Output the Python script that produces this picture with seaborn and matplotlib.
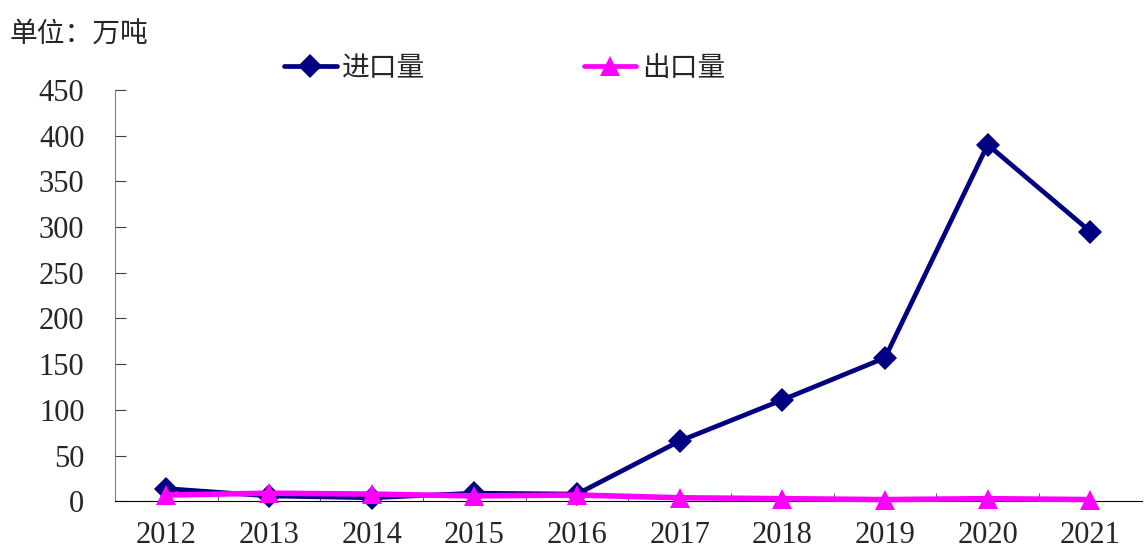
import pandas as pd
import matplotlib.pyplot as plt
import seaborn as sns

years = ['2012', '2013', '2014', '2015', '2016', '2017', '2018', '2019', '2020', '2021']
imports = [14, 6, 4, 9, 8, 66, 111, 157, 390, 295]
exports = [7, 9, 8, 6, 7, 4, 3, 2, 3, 2]
series_names = ['进口量', '出口量']
series_colors = ['#000080', '#FF00FF']
yticks = [0, 50, 100, 150, 200, 250, 300, 350, 400, 450]

df = pd.DataFrame({
    'year': years * 2,
    'value': imports + exports,
    'series': [series_names[0]] * len(years) + [series_names[1]] * len(years),
})

sns.set_style('ticks')
plt.rcParams['font.family'] = ['Liberation Serif', 'Noto Sans CJK SC']

fig, ax = plt.subplots(figsize=(11.44, 5.51), dpi=100)
fig.subplots_adjust(left=0.1005, right=0.998, top=0.837, bottom=0.09)

sns.lineplot(data=df, x='year', y='value', hue='series', style='series',
             palette=series_colors, markers=['D', '^'], dashes=False,
             linewidth=3.4, markersize=12, markeredgewidth=0, ax=ax, legend=False, sort=False)
# markers sit on the x axis in the original, so do not clip them
for i, line in enumerate(ax.lines):
    line.set_clip_on(False)
    if i == 1:
        line.set_markersize(14)
        line.set_linewidth(4)
        line.set_zorder(3)

ax.set_xlim(-0.5, len(years) - 0.5)
ax.set_ylim(0, 450)
ax.set_yticks(yticks)
ax.set_xticks(range(len(years)))
ax.set_xticklabels(years)
ax.set_xticks([i + 0.5 for i in range(len(years) - 1)], minor=True)
ax.tick_params(axis='x', which='major', length=0, pad=14, labelsize=22)
ax.tick_params(axis='x', which='minor', direction='in', length=6, color='#404040')
ax.tick_params(axis='y', direction='in', length=8, pad=22, labelsize=22, color='#404040')
ax.set_xlabel('')
ax.set_ylabel('')
sns.despine(ax=ax)
ax.spines['left'].set_color('#808080')
ax.spines['bottom'].set_color('black')

fig.text(0.008, 0.937, '单位：万吨', fontsize=20, family=['Noto Sans CJK SC'], va='center')

handles = [plt.Line2D([], [], color=c, marker=m, lw=3.4, ms=ms, mew=0)
           for c, m, ms in zip(series_colors, ['D', '^'], [12, 14])]
leg = fig.legend(handles, series_names, loc='center', bbox_to_anchor=(0.441, 0.877), ncol=2,
                 frameon=False, columnspacing=5.7, handlelength=1.9, handletextpad=0.2,
                 prop={'family': 'Noto Sans CJK SC', 'size': 20})

plt.savefig('out.png', dpi=100)
